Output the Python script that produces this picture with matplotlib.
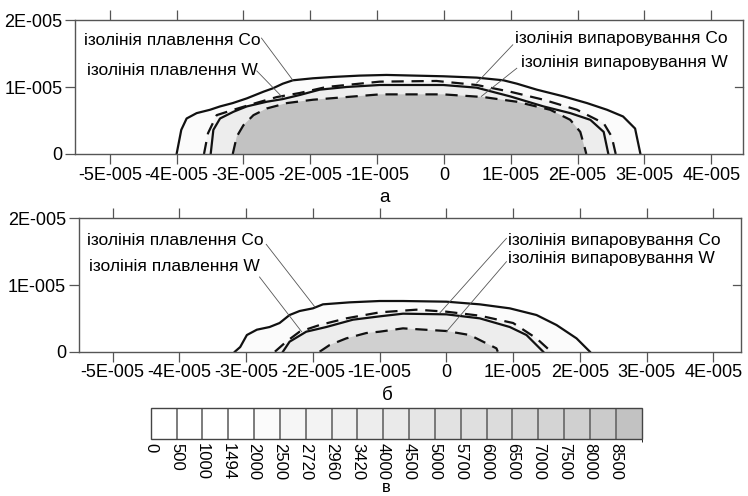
import numpy as np
import matplotlib
matplotlib.use("Agg")
import matplotlib.pyplot as plt
from matplotlib.colors import ListedColormap, BoundaryNorm
from matplotlib.cm import ScalarMappable

plt.rcParams['font.family'] = ['Liberation Sans', 'DejaVu Sans']

SCALE = 1e-5
# ---- colour scale (temperature levels) ----
levels = [0, 500, 1000, 1494, 2000, 2500, 2720, 2960, 3420, 4000, 4500, 5000,
          5700, 6000, 6500, 7000, 7500, 8000, 8500, 9000]
level_labels = ["0", "500", "1000", "1494", "2000", "2500", "2720", "2960", "3420",
                "4000", "4500", "5000", "5700", "6000", "6500", "7000", "7500",
                "8000", "8500"]
band_gray = [255, 255, 255, 255, 251, 246, 243, 240, 237, 234, 230, 226, 223,
             220, 216, 212, 208, 203, 194]

# ---- axis ticks ----
x_ticks = [-5, -4, -3, -2, -1, 0, 1, 2, 3, 4]
x_tick_labels = ["-5E-005", "-4E-005", "-3E-005", "-2E-005", "-1E-005", "0",
                 "1E-005", "2E-005", "3E-005", "4E-005"]
y_ticks = [0, 1, 2]
y_tick_labels = ["0", "1E-005", "2E-005"]

# ---- isolines, panel a (units of 1e-5) ----
a_co_melt_x = [-4.0, -3.93, -3.85, -3.70, -3.50, -3.35, -3.16, -2.95, -2.70, -2.56, -2.41, -2.26,
               -1.96, -1.66, -1.26, -0.86, -0.01, 0.49, 0.89, 1.09, 1.39, 1.79, 2.14, 2.44, 2.68,
               2.86, 2.94]
a_co_melt_y = [0.0, 0.36, 0.53, 0.61, 0.66, 0.71, 0.76, 0.83, 0.93, 0.98, 1.05, 1.10,
               1.13, 1.15, 1.17, 1.18, 1.16, 1.14, 1.10, 1.05, 0.96, 0.86, 0.76, 0.66, 0.56,
               0.38, 0.0]
a_co_evap_x = [-3.59, -3.53, -3.40, -3.15, -2.85, -2.50, -2.16, -1.76, -1.36, -0.96, -0.11, 0.49,
               0.99, 1.49, 1.99, 2.39, 2.51, 2.57]
a_co_evap_y = [0.0, 0.31, 0.58, 0.66, 0.75, 0.85, 0.91, 1.00, 1.04, 1.08, 1.09, 1.03,
               0.93, 0.81, 0.66, 0.46, 0.26, 0.0]
a_w_melt_x = [-3.49, -3.45, -3.35, -3.15, -2.95, -2.65, -2.41, -2.16, -1.86, -1.46, -0.96, -0.01,
              0.49, 0.99, 1.49, 1.89, 2.19, 2.39, 2.46]
a_w_melt_y = [0.0, 0.36, 0.53, 0.63, 0.71, 0.78, 0.82, 0.88, 0.96, 1.00, 1.03, 1.03,
              0.99, 0.86, 0.71, 0.61, 0.51, 0.33, 0.0]
a_w_evap_x = [-3.16, -3.10, -3.0, -2.85, -2.65, -2.35, -1.96, -1.46, -0.96, -0.01, 0.59, 1.09,
              1.59, 1.89, 2.04, 2.11, 2.13]
a_w_evap_y = [0.0, 0.26, 0.43, 0.58, 0.68, 0.76, 0.81, 0.85, 0.89, 0.89, 0.85, 0.78,
              0.66, 0.51, 0.33, 0.08, 0.0]

# ---- isolines, panel b ----
b_co_melt_x = [-3.17, -3.09, -2.99, -2.84, -2.65, -2.50, -2.35, -2.20, -2.0, -1.85, -1.45, -1.0,
               -0.65, 0.0, 0.50, 0.95, 1.35, 1.65, 1.95, 2.15]
b_co_melt_y = [0.0, 0.07, 0.25, 0.33, 0.37, 0.43, 0.55, 0.61, 0.65, 0.71, 0.74, 0.76,
               0.76, 0.75, 0.71, 0.65, 0.55, 0.40, 0.20, 0.0]
b_co_evap_x = [-2.57, -2.40, -2.20, -1.90, -1.50, -1.0, -0.45, 0.0, 0.50, 1.0, 1.35, 1.57]
b_co_evap_y = [0.0, 0.15, 0.30, 0.40, 0.50, 0.59, 0.63, 0.60, 0.54, 0.43, 0.20, 0.0]
b_w_melt_x = [-2.45, -2.35, -2.10, -1.80, -1.40, -1.0, -0.65, 0.0, 0.50, 0.95, 1.20, 1.45]
b_w_melt_y = [0.0, 0.15, 0.30, 0.37, 0.48, 0.53, 0.57, 0.56, 0.50, 0.37, 0.25, 0.0]
b_w_evap_x = [-1.90, -1.75, -1.50, -1.20, -1.0, -0.65, 0.0, 0.35, 0.75, 0.77]
b_w_evap_y = [0.0, 0.10, 0.20, 0.28, 0.30, 0.35, 0.31, 0.25, 0.05, 0.0]

# fill level used inside each isoline (outer -> inner): Co melt, Co evap, W melt, W evap
fill_levels_a = [2000, 2720, 3420, 8500]
fill_levels_b = [2000, 2720, 3420, 7500]

labels_left = ["ізолінія плавлення Co", "ізолінія плавлення W"]
labels_right = ["ізолінія випаровування Co", "ізолінія випаровування W"]
panel_labels = ["а", "б", "в"]

cmap = ListedColormap([(g / 255, g / 255, g / 255) for g in band_gray])
norm = BoundaryNorm(levels, cmap.N)

W, H = 748, 496
fig = plt.figure(figsize=(W / 100, H / 100), dpi=100)


def px_rect(l, t, r, b):
    return [l / W, 1 - b / H, (r - l) / W, (b - t) / H]


FS = 12.5
TFS = 13
line_col = '#111111'
spine_col = '#555555'


def setup_axes(ax, xlim):
    ax.set_xlim(xlim[0] * SCALE, xlim[1] * SCALE)
    ax.set_ylim(0, 2 * SCALE)
    ax.set_xticks([v * SCALE for v in x_ticks])
    ax.set_xticklabels(x_tick_labels, fontsize=TFS)
    ax.set_yticks([v * SCALE for v in y_ticks])
    ax.set_yticklabels(y_tick_labels, fontsize=TFS)
    ax.tick_params(axis='x', which='both', direction='out', length=7, width=0.9,
                   color=spine_col, top=True, pad=2)
    ax.tick_params(axis='y', which='both', direction='out', length=7, width=0.9,
                   color=spine_col, right=False, pad=2)
    for s in ax.spines.values():
        s.set_color(spine_col)
        s.set_linewidth(1.0)
        s.set_zorder(5)
    for yv in y_ticks[1:2]:
        ax.plot([xlim[1] * SCALE - 0.12 * SCALE, xlim[1] * SCALE], [yv * SCALE, yv * SCALE],
                color=spine_col, lw=0.9, zorder=6, clip_on=False)


def draw_panel(ax, lines, fill_levels):
    for (xs, ys), lev in zip(lines, fill_levels):
        xx = np.array(xs) * SCALE
        yy = np.array(ys) * SCALE
        ax.fill(xx, yy, color=cmap(norm(lev)), lw=0, zorder=1)
    styles = ['-', (0, (5.5, 3.5)), '-', (0, (5.5, 3.5))]
    for (xs, ys), st in zip(lines, styles):
        ax.plot(np.array(xs) * SCALE, np.array(ys) * SCALE, color=line_col, lw=1.6,
                linestyle=st, zorder=3)


def annotate(ax, text, text_xy, p0, p1):
    ax.text(text_xy[0] * SCALE, text_xy[1] * SCALE, text, fontsize=FS, va='center',
            ha='left', zorder=7)
    ax.plot([p0[0] * SCALE, p1[0] * SCALE], [p0[1] * SCALE, p1[1] * SCALE],
            color='#555555', lw=0.6, zorder=4)


# ---------- panel a ----------
ax1 = fig.add_axes(px_rect(75, 20, 742.7, 154))
setup_axes(ax1, (-5.52, 4.47))
draw_panel(ax1, [(a_co_melt_x, a_co_melt_y), (a_co_evap_x, a_co_evap_y),
                 (a_w_melt_x, a_w_melt_y), (a_w_evap_x, a_w_evap_y)], fill_levels_a)
annotate(ax1, labels_left[0], (-5.39, 1.70), (-2.73, 1.73), (-2.26, 1.10))
annotate(ax1, labels_left[1], (-5.34, 1.25), (-2.80, 1.24), (-2.41, 0.84))
annotate(ax1, labels_right[0], (1.06, 1.73), (1.03, 1.63), (0.49, 1.06))
annotate(ax1, labels_right[1], (1.16, 1.36), (1.09, 1.28), (0.56, 0.86))

# ---------- panel b ----------
ax2 = fig.add_axes(px_rect(78.7, 218.3, 740.7, 351.7))
setup_axes(ax2, (-5.51, 4.41))
draw_panel(ax2, [(b_co_melt_x, b_co_melt_y), (b_co_evap_x, b_co_evap_y),
                 (b_w_melt_x, b_w_melt_y), (b_w_evap_x, b_w_evap_y)], fill_levels_b)
annotate(ax2, labels_left[0], (-5.38, 1.67), (-2.70, 1.61), (-1.97, 0.67))
annotate(ax2, labels_left[1], (-5.36, 1.27), (-2.80, 1.12), (-2.17, 0.30))
annotate(ax2, labels_right[0], (0.92, 1.67), (0.90, 1.70), (-0.10, 0.58))
annotate(ax2, labels_right[1], (0.92, 1.40), (0.90, 1.35), (0.0, 0.30))

# ---------- colour bar ----------
cax = fig.add_axes(px_rect(150.7, 408.3, 641.7, 439.3))
sm = ScalarMappable(norm=norm, cmap=cmap)
cb = fig.colorbar(sm, cax=cax, orientation='horizontal', spacing='uniform',
                  ticks=levels[:-1], drawedges=True)
cb.outline.set_edgecolor('#444444')
cb.outline.set_linewidth(1.0)
cb.dividers.set_color('#666666')
cb.dividers.set_linewidth(1.2)
cax.set_xticklabels(level_labels, rotation=270, fontsize=12)
cax.tick_params(axis='x', length=0, pad=3)
for lbl in cax.get_xticklabels():
    lbl.set_va('top')
    lbl.set_ha('center')

# ---------- panel labels ----------
for lab, (px, py), fs in zip(panel_labels, [(385, 198), (387, 395), (386, 488)],
                             [13.5, 13.5, 12]):
    fig.text(px / W, 1 - py / H, lab, fontsize=fs, ha='center', va='center')

fig.savefig("out.png", dpi=100)
